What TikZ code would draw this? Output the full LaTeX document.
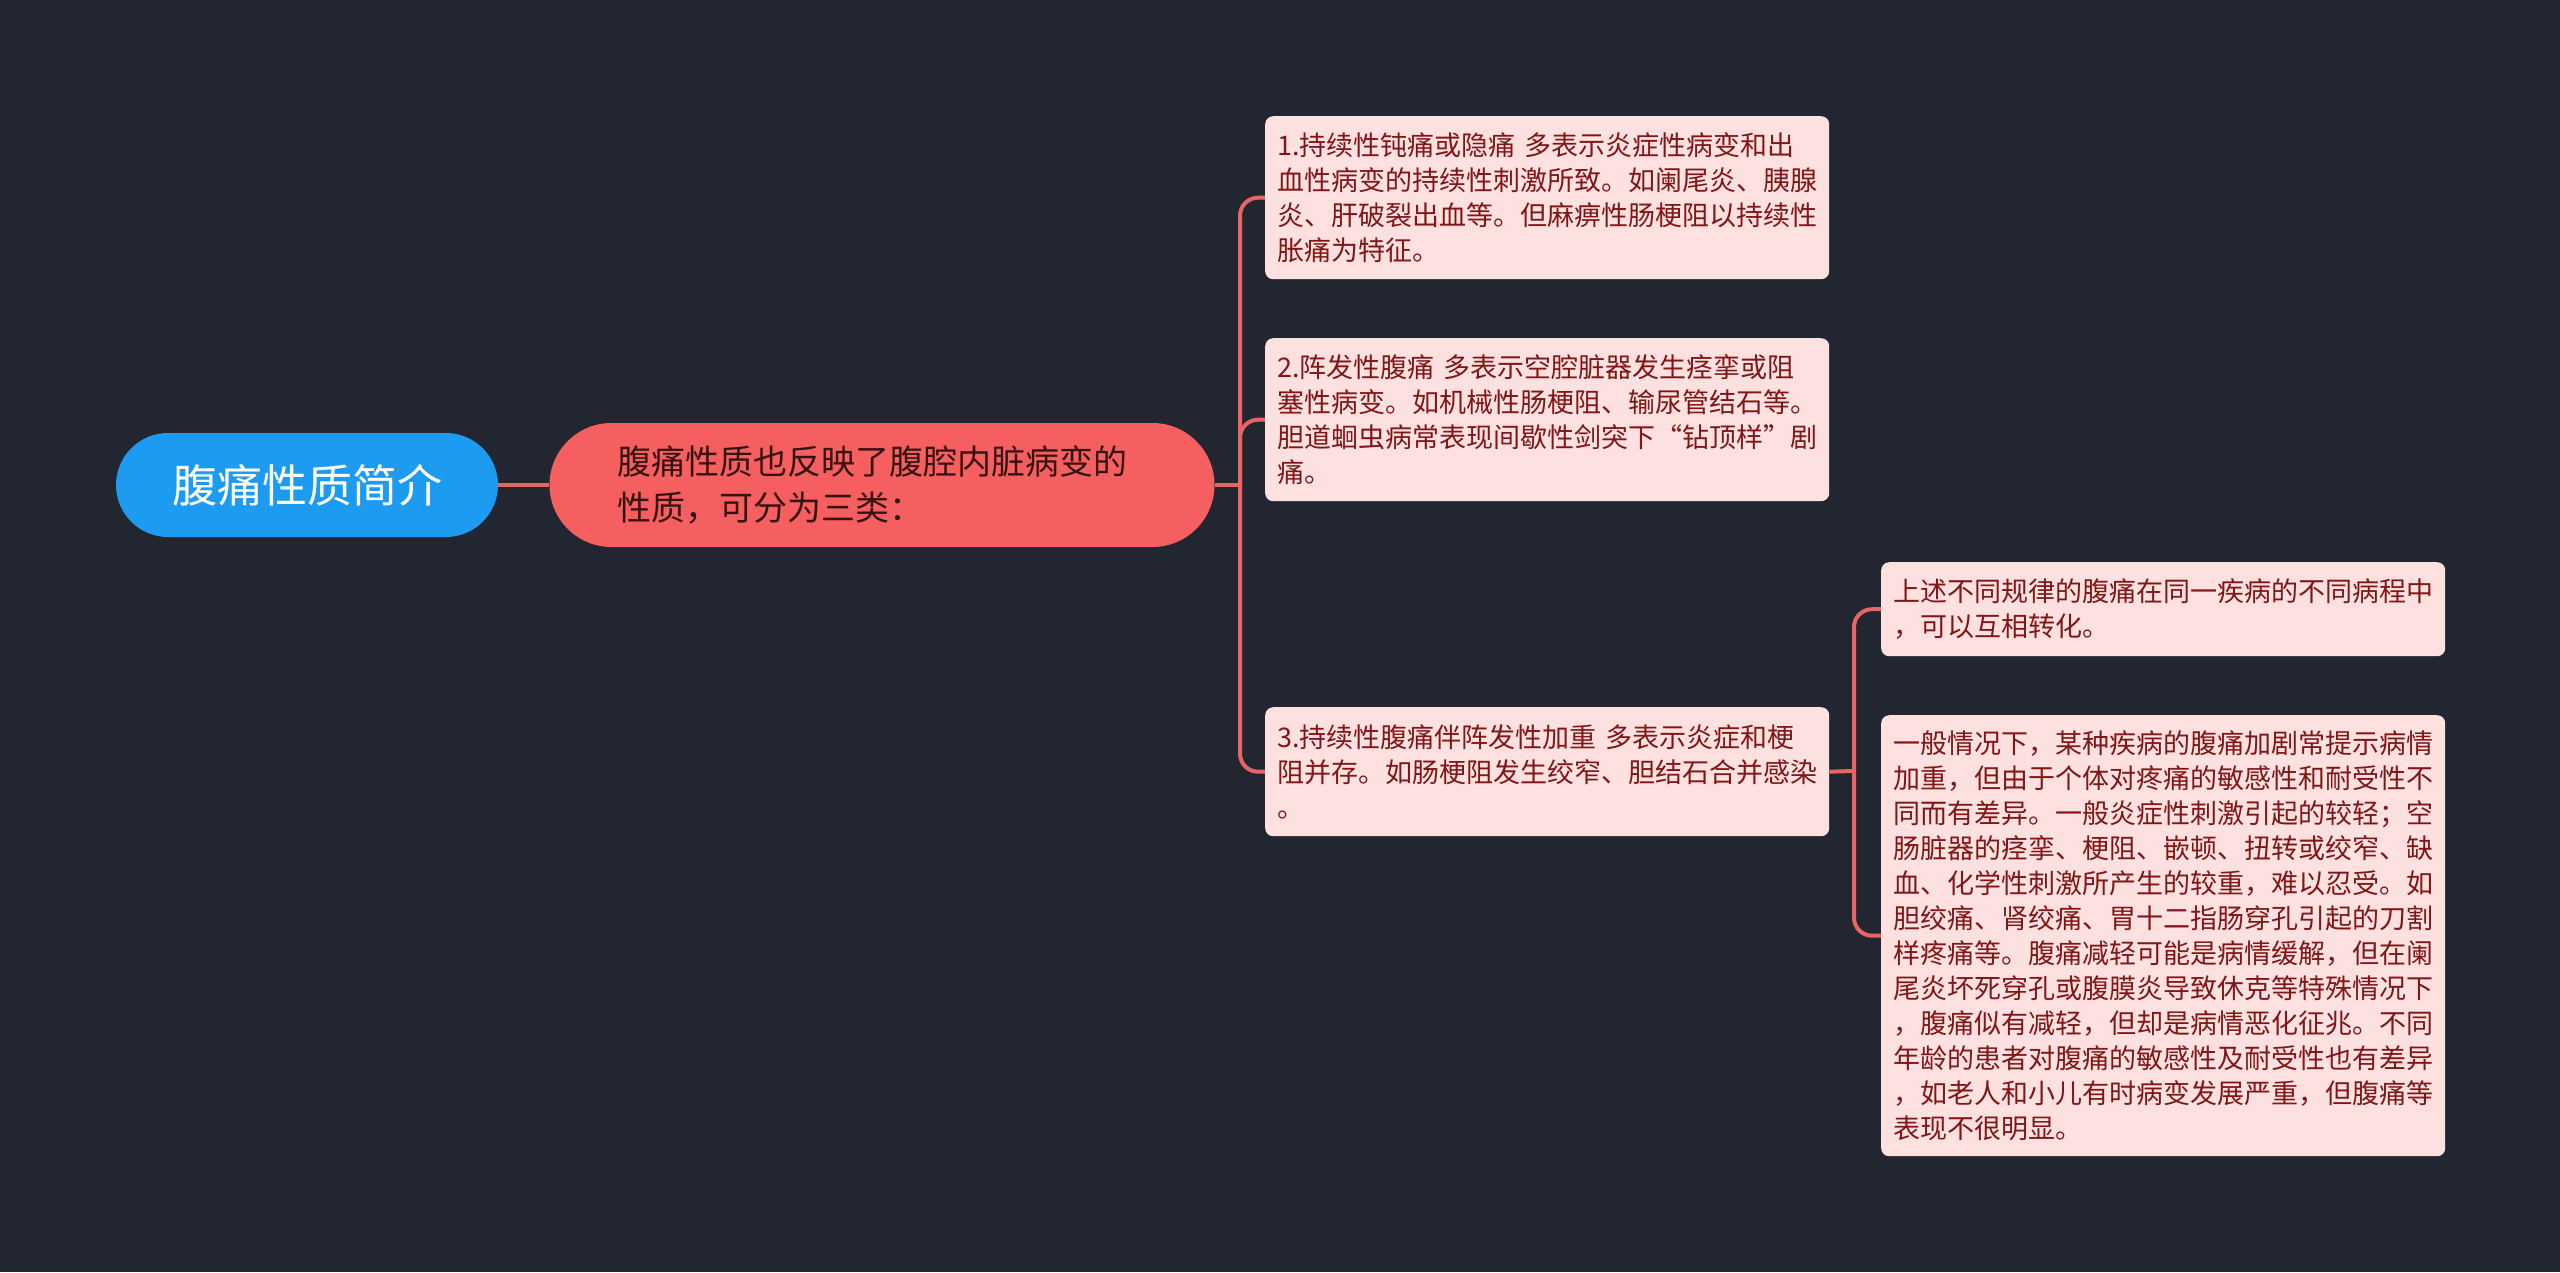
\documentclass[tikz,border=0pt]{standalone}
\usepackage{fontspec}
\setmainfont{Noto Sans CJK SC}
\definecolor{bgc}{RGB}{34,38,48}
\definecolor{rootc}{RGB}{28,155,240}
\definecolor{mainc}{RGB}{246,95,95}
\definecolor{boxc}{RGB}{253,225,225}
\definecolor{boxtxt}{RGB}{128,22,22}
\definecolor{maintxt}{RGB}{55,18,18}
\definecolor{linec}{RGB}{233,100,100}
\tikzset{
  rootnode/.style={fill=rootc, text=white, rounded corners=52pt, minimum width=382pt, minimum height=104pt, inner sep=0pt, font=\fontsize{45}{54}\selectfont},
  mainnode/.style={fill=mainc, text=maintxt, rounded corners=62pt, text width=530pt, align=left, inner xsep=67.5pt, inner ysep=0pt, minimum height=124pt, font=\fontsize{34}{46}\selectfont},
  leaf/.style={fill=boxc, text=boxtxt, rounded corners=8pt, anchor=north west, text width=540pt, align=left, inner xsep=12pt, inner ysep=0pt, font=\fontsize{27}{35}\selectfont},
  conn/.style={draw=linec, line width=4pt},
  branch/.style={conn, rounded corners=18pt},
}
\begin{document}
\begin{tikzpicture}[x=1pt,y=-1pt]
\fill[bgc] (0,0) rectangle (2560,1272);
\useasboundingbox (0,0) rectangle (2560,1272);

\node[rootnode] (root) at (307,485) {腹痛性质简介};
\node[mainnode] (main) at (882,485) {腹痛性质也反映了腹腔内脏病变的\\性质，可分为三类：};

\node[leaf, minimum height=163pt] (b1) at (1265,116) {1.持续性钝痛或隐痛 多表示炎症性病变和出\\血性病变的持续性刺激所致。如阑尾炎、胰腺\\炎、肝破裂出血等。但麻痹性肠梗阻以持续性\\胀痛为特征。};
\node[leaf, minimum height=163pt] (b2) at (1265,338) {2.阵发性腹痛 多表示空腔脏器发生痉挛或阻\\塞性病变。如机械性肠梗阻、输尿管结石等。\\胆道蛔虫病常表现间歇性剑突下“钻顶样”剧\\痛。};
\node[leaf, minimum height=129pt] (b3) at (1265,707) {3.持续性腹痛伴阵发性加重 多表示炎症和梗\\阻并存。如肠梗阻发生绞窄、胆结石合并感染\\。};
\node[leaf, minimum height=94pt] (b4) at (1881,562) {上述不同规律的腹痛在同一疾病的不同病程中\\，可以互相转化。};
\node[leaf, minimum height=441pt] (b5) at (1881,715) {一般情况下，某种疾病的腹痛加剧常提示病情\\加重，但由于个体对疼痛的敏感性和耐受性不\\同而有差异。一般炎症性刺激引起的较轻；空\\肠脏器的痉挛、梗阻、嵌顿、扭转或绞窄、缺\\血、化学性刺激所产生的较重，难以忍受。如\\胆绞痛、肾绞痛、胃十二指肠穿孔引起的刀割\\样疼痛等。腹痛减轻可能是病情缓解，但在阑\\尾炎坏死穿孔或腹膜炎导致休克等特殊情况下\\，腹痛似有减轻，但却是病情恶化征兆。不同\\年龄的患者对腹痛的敏感性及耐受性也有差异\\，如老人和小儿有时病变发展严重，但腹痛等\\表现不很明显。};

\coordinate (t1) at (1240,485);
\coordinate (t2) at (1854,771);

\draw[conn] (root.east) -- (main.west);
\draw[conn] (main.east) -- (t1);
\draw[branch] (t1) |- (b1.west);
\draw[branch] (t1) |- (b2.west);
\draw[branch] (t1) |- (b3.west);
\draw[conn] (b3.east) -- (t2);
\draw[branch] (t2) |- (b4.west);
\draw[branch] (t2) |- (b5.west);
\end{tikzpicture}
\end{document}
